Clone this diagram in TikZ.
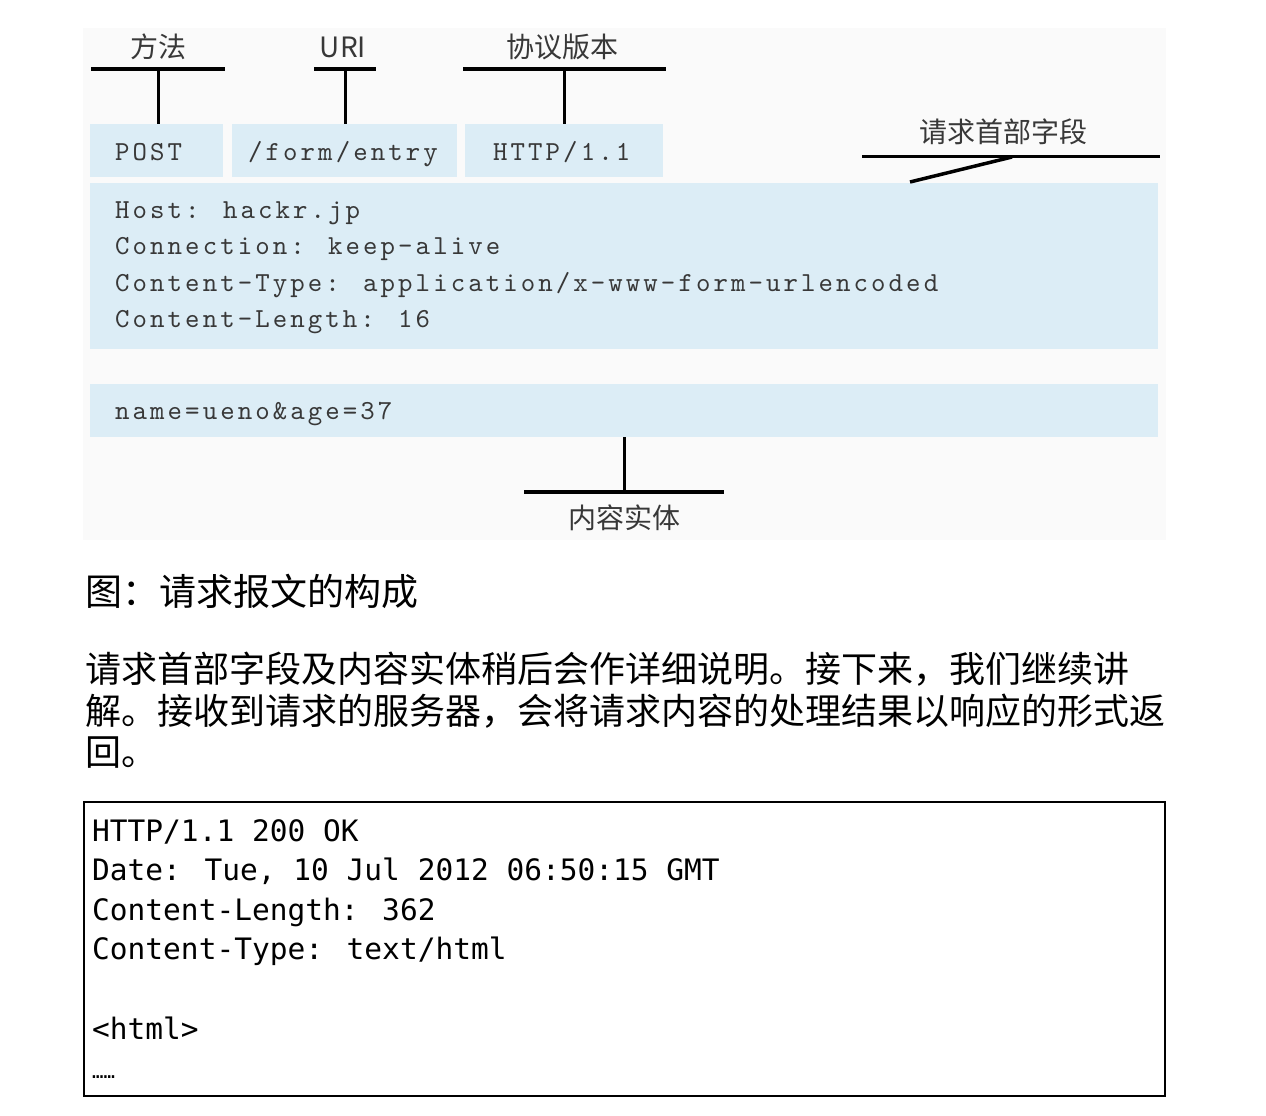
\documentclass[tikz,border=0pt]{standalone}
\usepackage{fontspec}
\newfontfamily\cjk{Noto Sans CJK SC}
\newfontfamily\conso{DejaVu Sans Mono}
\newfontfamily\cour{lmmono10-regular.otf}[LetterSpace=11.2]
\definecolor{boxblue}{HTML}{DCEDF6}
\definecolor{figbg}{HTML}{FAFAFA}
\definecolor{txtgray}{HTML}{383838}
\begin{document}
\begin{tikzpicture}[x=1pt,y=-1pt,
  bluebox/.style={fill=boxblue,draw=none,inner sep=0pt,outer sep=0pt},
  codetxt/.style={anchor=base west,inner sep=0pt,text=txtgray,font=\cour\fontsize{27.5}{27.5}\selectfont},
  lbl/.style={anchor=base,inner sep=0pt,text=txtgray,font=\cjk\fontsize{28}{28}\selectfont},
  bar/.style={line width=4pt,black},
  stem/.style={line width=3pt,black},
  para/.style={anchor=base west,inner sep=0pt,text=black,font=\cjk\fontsize{36}{36}\selectfont},
  resp/.style={anchor=base west,inner sep=0pt,text=black,font=\conso\fontsize{29.5}{29.5}\selectfont}]
\useasboundingbox (0,0) rectangle (1266,1116);
\fill[white] (0,0) rectangle (1266,1116);
\fill[figbg] (83,28) rectangle (1166,540);

% request line boxes
\node[bluebox,minimum width=133pt,minimum height=53pt] (post) at (156.5,150.5) {};
\node[bluebox,minimum width=225pt,minimum height=53pt] (uri) at (344.5,150.5) {};
\node[bluebox,minimum width=198pt,minimum height=53pt] (ver) at (564,150.5) {};
\node[bluebox,minimum width=1068pt,minimum height=166pt] (hdr) at (624,266) {};
\node[bluebox,minimum width=1068pt,minimum height=53pt] (body) at (624,410.5) {};

\node[codetxt] (tpost) at (115,160) {POST};
\node[codetxt] (turi) at (248,160) {/form/entry};
\node[codetxt] (tver) at (493,160) {HTTP/1.1};
\node[codetxt] (h1) at (115,218) {Host: hackr.jp};
\node[codetxt] (h2) at (115,254) {Connection: keep-alive};
\node[codetxt] (h3) at (115,291) {Content-Type: application/x-www-form-urlencoded};
\node[codetxt] (h4) at (115,327) {Content-Length: 16};
\node[codetxt] (b1) at (115,419) {name=ueno\&age=37};

% labels and brackets
\node[lbl] (lmethod) at (158,58) {方法};
\node[lbl] (luri) at (343,58) {URI};
\node[lbl] (lver) at (562,58) {协议版本};
\node[lbl] (lhdr) at (1003,142) {请求首部字段};
\node[lbl] (lbody) at (624,528) {内容实体};

\coordinate (m1) at (91,69);  \coordinate (m2) at (225,69);  \coordinate (mc) at (158,69);
\coordinate (u1) at (314,69); \coordinate (u2) at (376,69);  \coordinate (uc) at (345,69);
\coordinate (v1) at (463,69); \coordinate (v2) at (666,69);  \coordinate (vc) at (564,69);
\coordinate (k1) at (862,156); \coordinate (k2) at (1160,156); \coordinate (kc) at (1012,157);
\coordinate (kt) at (910,182);
\coordinate (c1) at (524,492); \coordinate (c2) at (724,492); \coordinate (cc) at (624,492);

\draw[bar] (m1) -- (m2);
\draw[stem] (mc) -- (mc |- post.north);
\draw[bar] (u1) -- (u2);
\draw[stem] (uc) -- (uc |- uri.north);
\draw[bar] (v1) -- (v2);
\draw[stem] (vc) -- (vc |- ver.north);
\draw[line width=3pt] (k1) -- (k2);
\draw[line width=3.5pt] (kc) -- (kt);
\draw[stem] (cc |- body.south) -- (cc);
\draw[line width=3.5pt] (c1) -- (c2);

% caption and paragraph
\node[para,font=\cjk\fontsize{37}{37}\selectfont] (cap) at (85,605) {图：请求报文的构成};
\node[para] (p1) at (85,682) {请求首部字段及内容实体稍后会作详细说明。接下来，我们继续讲};
\node[para] (p2) at (85,724) {解。接收到请求的服务器，会将请求内容的处理结果以响应的形式返};
\node[para] (p3) at (85,765) {回。};

% response box
\node[draw=black,line width=2pt,minimum width=1081pt,minimum height=294pt,inner sep=0pt] (respbox) at (624.5,949) {};
\node[resp] (r1) at (92,841) {HTTP/1.1 200 OK};
\node[resp] (r2) at (92,880) {Date: Tue, 10 Jul 2012 06:50:15 GMT};
\node[resp] (r3) at (92,920) {Content-Length: 362};
\node[resp] (r4) at (92,959) {Content-Type: text/html};
\node[resp] (r5) at (92,1039) {<html>};
\node[resp,font=\conso\fontsize{19}{19}\selectfont] (r6) at (92,1078) {……};
\end{tikzpicture}
\end{document}
